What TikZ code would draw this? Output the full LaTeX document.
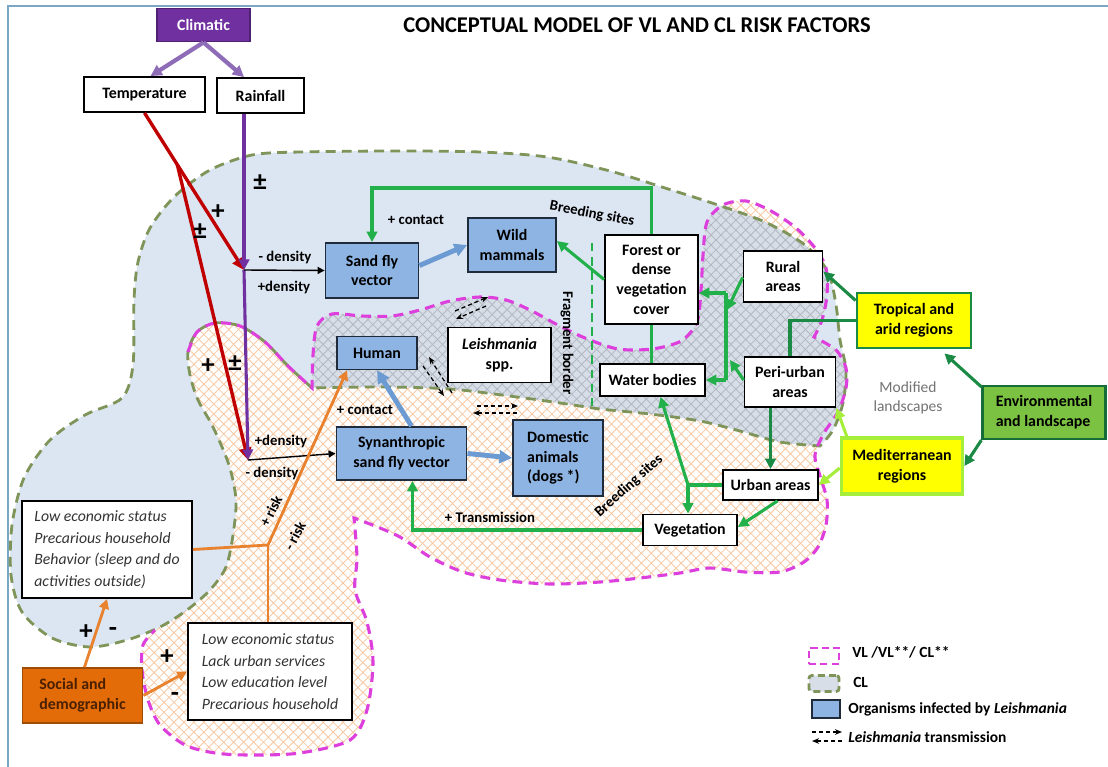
\documentclass[tikz,border=0pt]{standalone}
\usepackage{fontspec}
\setmainfont{Carlito}
\usepackage{xcolor}
\definecolor{clfill}{HTML}{DCE6F2}
\definecolor{cledge}{HTML}{7F9459}
\definecolor{vledge}{HTML}{DD3FDD}
\definecolor{hatchorange}{HTML}{F7C9A4}
\definecolor{overlapbg}{HTML}{D8DEE7}
\definecolor{hatchgray}{HTML}{B3B9C3}
\definecolor{infblue}{HTML}{8EB4E3}
\definecolor{infedge}{HTML}{1F2A3A}
\definecolor{bluelinkc}{HTML}{6B9BD2}
\definecolor{climpurple}{HTML}{7030A0}
\definecolor{climlilac}{HTML}{8E6CB8}
\definecolor{tempred}{HTML}{C00000}
\definecolor{landgreen}{HTML}{22B04B}
\definecolor{darkgreen}{HTML}{1A8A45}
\definecolor{limegreen}{HTML}{A6EE3C}
\definecolor{socorange}{HTML}{E36C09}
\definecolor{soctext}{HTML}{4A2000}
\definecolor{linkorange}{HTML}{E8822E}
\definecolor{envgreen}{HTML}{7CC242}
\definecolor{tropyellow}{HTML}{FFFF00}
\definecolor{frameblue}{HTML}{7BA7C4}
\usetikzlibrary{calc}
\usetikzlibrary{arrows.meta}
\usetikzlibrary{patterns.meta}

\def\pxu{0.025cm}

% region outlines (pixel grid, y downwards)
\def\clpath{plot[smooth] coordinates {(312,388) (288,366) (265,342) (240,326) (215,323) (197,332) (188,352) (190,375) (198,400) (213,427) (229,465) (236,500) (233,535) (226,567) (210,590) (187,610) (160,627) (127,640) (90,647) (52,638) (22,612) (11,575) (12,525) (24,478) (50,440) (85,415) (122,398) (133,365) (134,300) (138,262) (150,228) (175,196) (210,170) (252,155) (300,152) (400,151) (480,152) (547,157) (610,171) (665,188) (715,204) (765,222) (805,245) (828,272) (836,305) (840,340) (846,370) (843,403) (833,430) (820,446)} -- plot[smooth] coordinates {(820,446) (780,442) (740,431) (700,421) (650,414) (600,409) (567,404) (517,397) (450,389) (380,387) (312,388)} -- cycle}
\def\vlborder{plot[smooth] coordinates {(188,352) (197,332) (215,323) (240,326) (265,342) (288,366) (312,388)} -- plot[smooth] coordinates {(312,388) (313,355) (317,326) (332,314) (362,316) (392,316) (420,310) (450,301) (480,297) (506,300) (530,310) (556,324) (585,338) (618,349) (652,349) (681,341) (697,322) (701,290) (703,255) (707,222) (723,205) (746,201) (771,211) (796,228) (815,248) (826,268) (827,295) (822,320) (814,337)} -- plot[smooth] coordinates {(814,337) (836,350) (846,368) (846,388) (838,412) (824,433) (815,455) (820,476) (827,500) (826,525) (818,547) (804,562) (780,572) (745,572) (710,568) (680,573) (640,578) (600,582) (550,584) (500,580) (463,572) (430,557) (400,537) (375,526) (354,518)} -- plot[smooth] coordinates {(354,518) (357,558) (355,590) (367,622) (373,662) (367,710) (350,740) (300,753) (250,755) (215,753) (185,745) (160,725) (148,700) (142,670) (143,645) (155,630)}}
\def\vlpath{\vlborder -- plot[smooth] coordinates {(160,627) (187,610) (210,590) (226,567) (233,535) (236,500) (229,465) (213,427) (198,400) (190,375) (188,352)} -- cycle}

\tikzset{
  plainbox/.style={draw=black, line width=1.3pt, fill=white, align=center, inner sep=1pt,
    font=\fontsize{11.3}{14}\selectfont\bfseries},
  infbox/.style={plainbox, fill=infblue, draw=infedge},
  tropbox/.style={plainbox, fill=tropyellow, draw=darkgreen, line width=2pt},
  medbox/.style={plainbox, fill=tropyellow, draw=limegreen, line width=2.6pt},
  envbox/.style={plainbox, fill=envgreen, draw=darkgreen!80!black, line width=1.6pt, align=left},
  socbox/.style={plainbox, fill=socorange, draw=socorange!70!black, text=soctext, align=left},
  riskbox/.style={plainbox, align=left, font=\fontsize{11.2}{15.3}\selectfont\itshape, text=black!80},
  wh/.style 2 args={minimum width=#1*\pxu, minimum height=#2*\pxu},
  lbl/.style={font=\fontsize{10.5}{12}\selectfont\bfseries, inner sep=0pt},
  sign/.style={font=\fontsize{19}{19}\selectfont\bfseries, inner sep=0pt},
  modlbl/.style={font=\fontsize{11}{14}\selectfont, text=black!55, align=center},
  legtxt/.style={font=\fontsize{11}{13}\selectfont\bfseries, anchor=west, inner sep=0pt},
  headarrow/.style={-{Triangle[length=#1,width=#1]}},
  climlink/.style={draw=climlilac, line width=3pt, headarrow=8pt},
  redlink/.style={draw=tempred, line width=2.4pt, headarrow=8.5pt},
  rainlink/.style={draw=climpurple, line width=2.2pt, headarrow=7.5pt},
  blacklink/.style={draw=black, line width=1pt, -{Triangle[length=5pt,width=5pt]}},
  bluelink/.style={draw=bluelinkc, line width=3.5pt, headarrow=9pt},
  greenline/.style={draw=landgreen, line width=2.2pt},
  greenlink/.style={greenline, headarrow=7.5pt},
  darkline/.style={draw=darkgreen, line width=2.2pt},
  darklink/.style={darkline, headarrow=7.5pt},
  limelink/.style={draw=limegreen, line width=2.2pt, headarrow=7.5pt},
  orangeline/.style={draw=linkorange, line width=2pt},
  orangelink/.style={orangeline, headarrow=7pt},
  trans/.style={draw=black, line width=0.9pt, dash pattern=on 3pt off 2pt, -{Stealth[length=5pt,width=4pt]}},
  hatch/.style={pattern={Lines[angle=#1,distance=5pt,line width=0.6pt]}},
}

\begin{document}
\begin{tikzpicture}[x=0.025cm, y=-0.025cm]
\useasboundingbox (0,0) rectangle (1108,767);
\fill[white] (0,0) rectangle (1108,767);
\draw[frameblue, line width=1.5pt] (8,767) -- (8,6) -- (1108,6);

% regions
\fill[clfill] \clpath;
\begin{scope}
  \clip \vlpath;
  \fill[hatch=45, pattern color=hatchorange] (0,0) rectangle (1108,767);
  \fill[hatch=-45, pattern color=hatchorange] (0,0) rectangle (1108,767);
  \clip \clpath;
  \fill[overlapbg] (0,0) rectangle (1108,767);
  \fill[hatch=45, pattern color=hatchgray] (0,0) rectangle (1108,767);
  \fill[hatch=-45, pattern color=hatchgray] (0,0) rectangle (1108,767);
\end{scope}
\draw[cledge, line width=2pt, dash pattern=on 7pt off 4.5pt] \clpath;
\draw[vledge, line width=2.2pt, dash pattern=on 7pt off 4.5pt] \vlborder;
\draw[landgreen, line width=1.5pt, dash pattern=on 6pt off 4pt] (592,243) -- (592,408);

\node[font=\fontsize{16}{18}\selectfont\bfseries] (title) at (637,25) {CONCEPTUAL MODEL OF VL AND CL RISK FACTORS};

% boxes
\node[plainbox, wh={93}{33}, fill=climpurple, draw=climpurple!70!black, text=white] (clim) at (203.5,25) {Climatic};
\node[plainbox, wh={121}{35}] (temp) at (144.5,94.5) {Temperature};
\node[plainbox, wh={87}{35}] (rain) at (260.5,95.5) {Rainfall};
\node[infbox, wh={93}{55}] (sandfly) at (372,270.5) {Sand fly\\vector};
\node[infbox, wh={88}{54}] (wild) at (512,245) {Wild\\mammals};
\node[plainbox, wh={93}{89}] (forest) at (651.5,279.5) {Forest or\\dense\\vegetation\\cover};
\node[plainbox, wh={105}{32}] (water) at (652.5,380) {Water bodies};
\node[plainbox, wh={79}{51}] (rural) at (783,276.5) {Rural\\areas};
\node[plainbox, wh={91}{50}] (peri) at (790,382) {Peri-urban\\areas};
\node[tropbox, wh={114}{55}] (trop) at (914,320.5) {Tropical and\\arid regions};
\node[envbox, wh={123}{53}] (env) at (1044,412.5) {Environmental\\and landscape};
\node[medbox, wh={121}{56}] (medit) at (902,466) {Mediterranean\\regions};
\node[plainbox, wh={95}{30}] (urban) at (770.5,485) {Urban areas};
\node[plainbox, wh={94}{31}] (veg) at (690,530) {Vegetation};
\node[infbox, wh={80}{33}] (human) at (377,353) {Human};
\node[plainbox, wh={103}{55}] (leish) at (499.5,355) {\textit{Leishmania}\\spp.};
\node[infbox, wh={130}{53}] (synan) at (401.5,453.5) {Synanthropic\\sand fly vector};
\node[infbox, wh={90}{76}, align=left] (dom) at (558,458) {Domestic\\animals\\(dogs *)};
\node[socbox, wh={120}{55}] (social) at (82.5,695.5) {Social and\\demographic};
\node[riskbox, wh={170}{97}] (sbox1) at (107,549.5) {Low economic status\\Precarious household\\Behavior (sleep and do\\activities outside)};
\node[riskbox, wh={164}{97}] (sbox2) at (270,671.5) {Low economic status\\Lack urban services\\Low education level\\Precarious household};
\node[modlbl] (modified) at (908,398) {Modified\\landscapes};

% junctions
\coordinate (j1) at (244,270);
\coordinate (j2) at (248,460);
\coordinate (tsplit) at ($(temp.south)!0.33!(j1)$);
\coordinate (gtop) at (500,188);
\coordinate (busT) at (726,293);
\coordinate (busB) at (726,380);
\coordinate (busR) at (727,310);
\coordinate (busP) at (730,360);
\coordinate (vj) at (688,485);
\coordinate (oj) at (268,545);

% climatic
\draw[climlink] (clim.south) -- ($(temp.north)+(6,0)$);
\draw[climlink] (clim.south) -- (rain.north -| j1);
\draw[redlink] (temp.south) -- (j1);
\draw[redlink] (tsplit) -- (j2);
\draw[rainlink] (rain.south -| j1) -- (j1);
\draw[rainlink] (j1) -- (j2);
\draw[blacklink] (j1) -- (sandfly.west);
\draw[blacklink] (j2) -- (synan.west);

% vectors and hosts
\draw[bluelink] (sandfly.6) -- (wild.west);
\draw[bluelink] ($(synan.north)+(10,0)$) -- (human.south);
\draw[bluelink] (synan.east) -- (dom.west);

% landscape
\draw[greenlink] (forest.north) |- (gtop) -| (sandfly.north);
\draw[greenlink] (forest.west) -- ($(wild.east)+(0,-4)$);
\draw[greenline] (forest.south) -- (forest.south |- water.north);
\draw[greenline] (busT) -- (busB);
\draw[greenlink] (busT) -- (busT -| forest.east);
\draw[greenlink] (busB) -- (water.east);
\draw[greenlink] ($(rural.west)+(0,1)$) -- (busR);
\draw[greenlink] ($(peri.west)+(0,-2)$) -- (busP);
\draw[darklink] ($(trop.west)+(0,-20)$) -- ($(rural.east)+(0,-5)$);
\draw[darkline] (trop.west) -| (peri.north);
\draw[darklink] ($(env.north west)+(0,2)$) -- ($(trop.south east)+(-28,4)$);
\draw[darklink] (env.south west) -- (medit.east);
\draw[limelink] ($(medit.north west)+(7,0)$) -- (peri.south east);
\draw[limelink] ($(medit.west)+(0,2)$) -- (urban.east);
\draw[darklink] (urban.north |- peri.south) -- (urban.north);
\draw[greenline] (urban.west) -- (vj);
\draw[greenlink] (vj) -- (vj |- veg.north);
\draw[greenlink] (vj) -- ($(water.south)+(8,0)$);
\draw[greenlink] ($(urban.south)+(7,0)$) -- ($(veg.east)+(0,-3)$);
\draw[greenlink] (veg.west) -| ($(synan.south)+(11,0)$);

% social
\draw[orangelink] ($(social.north)+(2,0)$) -- (sbox1.south);
\draw[orangelink] (social.east) -- (sbox2.west);
\draw[orangeline] (sbox1.east) -- (oj);
\draw[orangeline] (oj |- sbox2.north) -- (oj);
\draw[orangelink] (oj) -- ($(human.south west)+(11,0)$);

% Leishmania transmission
\coordinate (tr1s) at (455,311); \coordinate (tr1e) at (488,297);
\coordinate (tr2s) at (486,306); \coordinate (tr2e) at (456,319);
\coordinate (tr3s) at (452,393); \coordinate (tr3e) at (429,357);
\coordinate (tr4s) at (423,366); \coordinate (tr4e) at (444,396);
\coordinate (tr5s) at (477,406); \coordinate (tr5e) at (518,406);
\coordinate (tr6s) at (517,413); \coordinate (tr6e) at (473,413);
\foreach \s/\e in {tr1s/tr1e, tr2s/tr2e, tr3s/tr3e, tr4s/tr4e, tr5s/tr5e, tr6s/tr6e}
  \draw[trans] (\s) -- (\e);

% labels
\node[lbl] (dminus1) at (285,257) {- density};
\node[lbl] (dplus1) at (284,287) {+density};
\node[lbl] (dplus2) at (281,441) {+density};
\node[lbl] (dminus2) at (272,473) {- density};
\node[lbl] (contact1) at (416,220) {+ contact};
\node[lbl] (contact2) at (365,410) {+ contact};
\node[lbl, rotate=-11] (breed1) at (592,214) {Breeding sites};
\node[lbl, rotate=42] (breed2) at (629,486) {Breeding sites};
\node[lbl, rotate=-90] (fragment) at (567,343) {Fragment border};
\node[lbl] (transm) at (490,517) {+ Transmission};
\node[lbl, rotate=63] (riskp) at (271,511) {+ risk};
\node[lbl, rotate=62] (riskm) at (295,536) {- risk};
\node[sign] (pm1) at (260,183) {±};
\node[sign] (p1) at (218,212) {+};
\node[sign] (pm2) at (200,232) {±};
\node[sign] (p2) at (208,366) {+};
\node[sign] (pm3) at (235,364) {±};
\node[sign] (p3) at (86,632) {+};
\node[sign] (m3) at (113,632) {-};
\node[sign] (p4) at (167,657) {+};
\node[sign] (m4) at (175,697) {-};

% legend
\node[draw=vledge, line width=2pt, dash pattern=on 5pt off 3pt, fill=white, wh={30}{16}, inner sep=0pt] (lgvl) at (824,656) {};
\node[draw=cledge, line width=2pt, dash pattern=on 5pt off 3pt, fill=overlapbg, rounded corners=2pt, wh={30}{16}, inner sep=0pt] (lgcl) at (824,683.5) {};
\node[infbox, wh={28}{18}] (lginf) at (826,709) {};
\coordinate (lg1s) at (812,732); \coordinate (lg1e) at (842,732);
\coordinate (lg2s) at (842,741); \coordinate (lg2e) at (812,741);
\draw[trans] (lg1s) -- (lg1e);
\draw[trans] (lg2s) -- (lg2e);
\node[legtxt] (lgvltxt) at (852,652) {VL /VL**/ CL**};
\node[legtxt] (lgcltxt) at (853,682) {CL};
\node[legtxt] (lginftxt) at (848,709) {Organisms infected by \textit{Leishmania}};
\node[legtxt] (lgtrtxt) at (848,737) {\textit{Leishmania} transmission};
\end{tikzpicture}
\end{document}
